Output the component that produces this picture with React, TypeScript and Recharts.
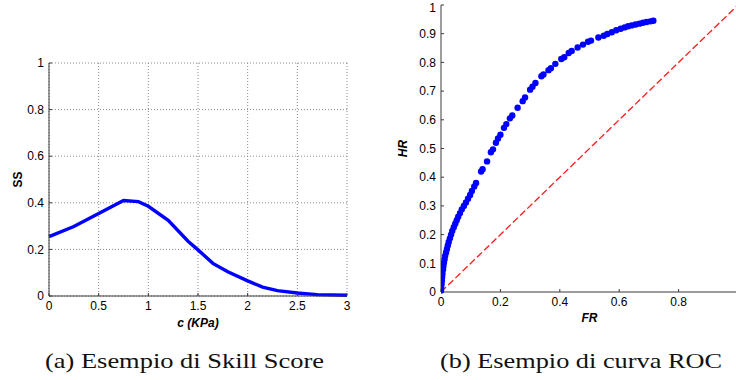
import { CartesianGrid, ComposedChart, Line, LineChart, Scatter, XAxis, YAxis } from 'recharts'

// Skill score as a function of the cohesion threshold c
const cohesion = [0, 0.25, 0.5, 0.75, 0.9, 1.0, 1.2, 1.4, 1.5, 1.65, 1.8, 2.0, 2.15, 2.3, 2.5, 2.7, 3.0]
const skillScore = [0.255, 0.298, 0.354, 0.41, 0.405, 0.385, 0.325, 0.235, 0.198, 0.14, 0.104, 0.065, 0.038, 0.023, 0.013, 0.006, 0.003]
const ssXTicks = [0, 0.5, 1, 1.5, 2, 2.5, 3]
const ssYTicks = [0, 0.2, 0.4, 0.6, 0.8, 1]

// ROC points: false alarm rate vs hit rate
const falseRate = [
  0, 0.001, 0.002, 0.003, 0.004, 0.005, 0.007, 0.008, 0.01, 0.012, 0.014, 0.017, 0.02, 0.023, 0.026, 0.03,
  0.034, 0.038, 0.043, 0.048, 0.053, 0.058, 0.064, 0.07, 0.077, 0.084, 0.091, 0.098, 0.104, 0.112, 0.118,
  0.135, 0.14, 0.155, 0.168, 0.175, 0.185, 0.192, 0.2, 0.212, 0.22, 0.232, 0.24, 0.258, 0.275, 0.283, 0.3,
  0.308, 0.318, 0.338, 0.345, 0.362, 0.37, 0.385, 0.405, 0.415, 0.43, 0.44, 0.46, 0.478, 0.495, 0.505,
  0.53, 0.548, 0.56, 0.575, 0.59, 0.605, 0.618, 0.63, 0.642, 0.655, 0.668, 0.68, 0.692, 0.705, 0.715,
]
const hitRate = [
  0.005, 0.015, 0.028, 0.04, 0.052, 0.064, 0.078, 0.09, 0.102, 0.114, 0.126, 0.138, 0.15, 0.162, 0.174, 0.187,
  0.2, 0.213, 0.226, 0.238, 0.25, 0.262, 0.275, 0.288, 0.3, 0.312, 0.325, 0.338, 0.352, 0.368, 0.38,
  0.42, 0.428, 0.455, 0.487, 0.497, 0.52, 0.535, 0.548, 0.572, 0.585, 0.605, 0.615, 0.642, 0.665, 0.678, 0.705,
  0.715, 0.728, 0.752, 0.758, 0.773, 0.78, 0.795, 0.812, 0.818, 0.833, 0.84, 0.852, 0.862, 0.872, 0.876,
  0.887, 0.893, 0.899, 0.905, 0.912, 0.917, 0.922, 0.926, 0.929, 0.932, 0.935, 0.938, 0.941, 0.943, 0.945,
]
const diagonal = [0, 1]
const rocXTicks = [0, 0.2, 0.4, 0.6, 0.8]
const rocYTicks = [0, 0.1, 0.2, 0.3, 0.4, 0.5, 0.6, 0.7, 0.8, 0.9, 1]

const ssData = cohesion.map((c, i) => ({ c, ss: skillScore[i] }))
const rocData = falseRate.map((fr, i) => ({ fr, hr: hitRate[i] }))
const diagData = diagonal.map((v) => ({ fr: v, hr: v }))

const BLUE = '#0000ff'
const AXIS = '#3a3a3a'
const tickFont = { fontFamily: 'Liberation Sans, Arial, sans-serif', fontSize: 12, fill: '#000' }
const titleFont = {
  fontFamily: 'Liberation Sans, Arial, sans-serif',
  fontSize: 12,
  fontWeight: 'bold' as const,
  fill: '#000',
}

const fmt = (v: number) => String(v)

// rotated y-axis title, placed left of the axis area
const yTitle = (text: string, dx: number, italic = false) =>
  function YTitle(props: any) {
    const vb = props.viewBox
    const x = vb.x + dx
    const y = vb.y + vb.height / 2
    return (
      <text
        x={x}
        y={y}
        transform={`rotate(-90 ${x} ${y})`}
        textAnchor="middle"
        dominantBaseline="central"
        style={{ ...titleFont, fontStyle: italic ? 'italic' : 'normal' }}
      >
        {text}
      </text>
    )
  }

const xTitle = (text: string, dy: number) =>
  function XTitle(props: any) {
    const vb = props.viewBox
    return (
      <text
        x={vb.x + vb.width / 2}
        y={vb.y + dy}
        textAnchor="middle"
        dominantBaseline="central"
        style={{ ...titleFont, fontStyle: 'italic' }}
      >
        {text}
      </text>
    )
  }

const dot = (props: any) => <circle cx={props.cx} cy={props.cy} r={3.2} fill={BLUE} />

function SkillScoreChart() {
  return (
    <LineChart
      width={360}
      height={340}
      data={ssData}
      margin={{ top: 63, right: 13, bottom: 24, left: 19 }}
    >
      <CartesianGrid stroke="#8a8a8a" strokeDasharray="1 2" horizontalValues={ssYTicks} verticalValues={ssXTicks} />
      <XAxis
        dataKey="c"
        type="number"
        domain={[0, 3]}
        ticks={ssXTicks}
        tickFormatter={fmt}
        height={20}
        stroke={AXIS}
        tickSize={-3}
        tickMargin={8}
        tick={tickFont}
        label={{ content: xTitle('c (KPa)', 27) }}
      />
      <XAxis xAxisId="top" orientation="top" type="number" domain={[0, 3]} ticks={ssXTicks} height={0} stroke={AXIS} tick={false} tickSize={-3} />
      <YAxis
        type="number"
        domain={[0, 1]}
        ticks={ssYTicks}
        tickFormatter={fmt}
        width={30}
        stroke={AXIS}
        tickSize={-3}
        tickMargin={8}
        tick={tickFont}
        label={{ content: yTitle('SS', -1) }}
      />
      <YAxis yAxisId="right" orientation="right" type="number" domain={[0, 1]} ticks={ssYTicks} width={0} stroke={AXIS} tick={false} tickSize={-3} />
      <Line type="linear" dataKey="ss" stroke={BLUE} strokeWidth={3.4} dot={false} isAnimationActive={false} />
    </LineChart>
  )
}

function RocChart() {
  return (
    <ComposedChart width={380} height={340} margin={{ top: 5, right: 22, bottom: 28, left: 31 }}>
      <XAxis
        dataKey="fr"
        type="number"
        domain={[0, 1]}
        ticks={rocXTicks}
        tickFormatter={fmt}
        height={20}
        stroke={AXIS}
        tickSize={-3}
        tickMargin={8}
        tick={tickFont}
        allowDataOverflow
        label={{ content: xTitle('FR', 26) }}
      />
      <XAxis xAxisId="top" orientation="top" type="number" domain={[0, 1]} ticks={rocXTicks} height={0} stroke="#8c8c8c" tick={false} tickSize={-3} />
      <YAxis
        dataKey="hr"
        type="number"
        domain={[0, 1]}
        ticks={rocYTicks}
        tickFormatter={fmt}
        width={30}
        stroke={AXIS}
        tickSize={-3}
        tickMargin={8}
        tick={tickFont}
        label={{ content: yTitle('HR', -8, true) }}
      />
      <YAxis yAxisId="right" orientation="right" type="number" domain={[0, 1]} ticks={rocYTicks} width={0} stroke={AXIS} tick={false} tickSize={-3} />
      <Line
        data={diagData}
        dataKey="hr"
        type="linear"
        stroke="#ff1a1a"
        strokeWidth={1.3}
        strokeDasharray="7 3"
        dot={false}
        isAnimationActive={false}
      />
      <Scatter data={rocData} dataKey="hr" fill={BLUE} shape={dot} isAnimationActive={false} />
    </ComposedChart>
  )
}

const captionStyle = { fontFamily: 'Liberation Serif, Times New Roman, serif', fontSize: 22, fill: '#111' }

export default function App() {
  return (
    <div style={{ position: 'absolute', left: 0, top: 0, width: 736, height: 380, overflow: 'hidden', background: '#fff' }}>
      <div style={{ position: 'absolute', left: 0, top: 0 }}>
        <SkillScoreChart />
      </div>
      <div style={{ position: 'absolute', left: 380, top: 0 }}>
        <RocChart />
      </div>
      <svg width={736} height={380} style={{ position: 'absolute', left: 0, top: 0, pointerEvents: 'none' }}>
        <text x={45} y={368} textLength={279} lengthAdjust="spacingAndGlyphs" style={captionStyle}>
          (a) Esempio di Skill Score
        </text>
        <text x={440} y={368} textLength={282} lengthAdjust="spacingAndGlyphs" style={captionStyle}>
          (b) Esempio di curva ROC
        </text>
      </svg>
    </div>
  )
}
